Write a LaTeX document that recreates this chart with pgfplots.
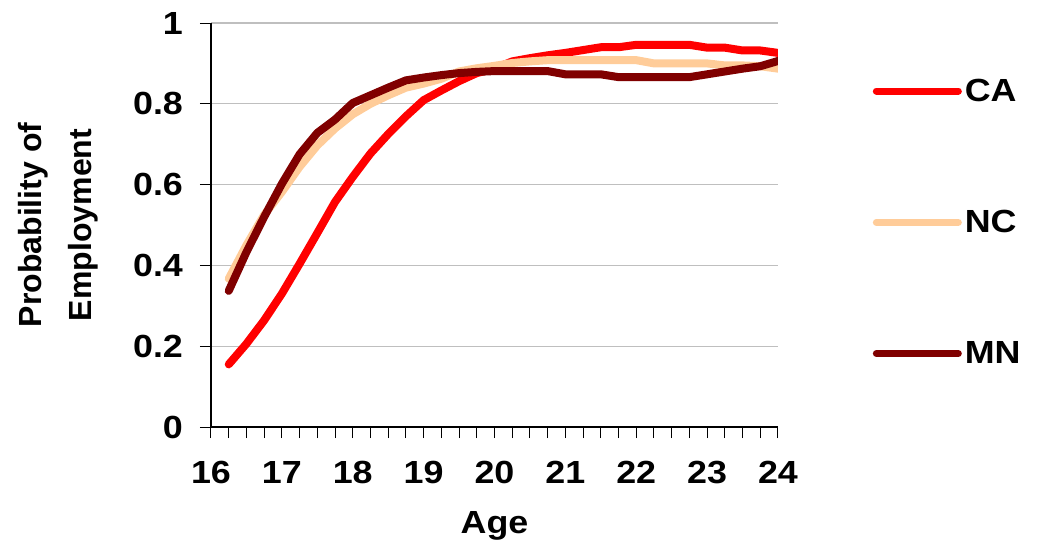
\documentclass[border=0pt]{standalone}
\usepackage{fontspec}
\setmainfont{Liberation Sans}
\newfontfamily\widefont{Liberation Sans}[FakeStretch=1.12]
\usepackage{pgfplots}
\pgfplotsset{compat=1.18}

\definecolor{caRed}{HTML}{FF0000}
\definecolor{ncPeach}{HTML}{FFCC99}
\definecolor{mnDark}{HTML}{800000}

\begin{document}
\begin{tikzpicture}
\useasboundingbox (-105.5pt,-57pt) rectangle (414pt,213.5pt);
\begin{axis}[
    at={(0,0)}, anchor=south west,
    scale only axis,
    width=283.5pt, height=202pt,
    xmin=16, xmax=24, ymin=0, ymax=1,
    axis lines*=left,
    axis line style={black, line width=0.6pt},
    xtick={16,...,24},
    minor x tick num=3,
    ytick={0,0.2,...,1},
    tick align=outside,
    major tick length=5.5pt, minor tick length=5.5pt,
    tick style={black, line width=0.5pt},
    ymajorgrids,
    grid style={gray!50, line width=0.6pt},
    /pgf/number format/assume math mode=true,
    yticklabel style={/pgf/number format/fixed, /pgf/number format/precision=1, xshift=-5pt},
    ticklabel style={font=\widefont\fontsize{16}{19}\selectfont\bfseries},
    xticklabel style={yshift=-8pt},
    xlabel={Age},
    xlabel style={font=\widefont\fontsize{16}{19}\selectfont\bfseries, yshift=-7pt},
    ylabel={Probability of\\Employment},
    ylabel style={font=\fontsize{16}{25}\selectfont\bfseries, align=center,
        at={(axis description cs:-0.27,0.5)}, anchor=center, rotate=0},
    every axis plot/.append style={line width=4pt, line cap=round, line join=round},
    legend image code/.code={\draw[#1, line width=3.5pt] (0pt,0.4pt) -- (41pt,0.4pt);},
    legend style={at={(axis description cs:1.156,0.505)}, anchor=west, draw=none, fill=none,
        font=\widefont\fontsize{16}{19}\selectfont\bfseries, row sep=50pt,
        nodes={inner sep=1.5pt}},
    legend cell align=left,
]
\addplot[caRed] coordinates {
(16.25,0.155) (16.5,0.206) (16.75,0.264) (17,0.330) (17.25,0.404) (17.5,0.480)
(17.75,0.557) (18,0.619) (18.25,0.677) (18.5,0.725) (18.75,0.769) (19,0.809)
(19.25,0.833) (19.5,0.856) (19.75,0.876) (20,0.887) (20.25,0.905) (20.5,0.913)
(20.75,0.920) (21,0.926) (21.25,0.933) (21.5,0.940) (21.75,0.940) (22,0.946)
(22.25,0.946) (22.5,0.946) (22.75,0.946) (23,0.939) (23.25,0.939) (23.5,0.932)
(23.75,0.932) (24,0.926)
};
\addplot[ncPeach] coordinates {
(16.25,0.367) (16.5,0.450) (16.75,0.525) (17,0.582) (17.25,0.644) (17.5,0.697)
(17.75,0.739) (18,0.774) (18.25,0.800) (18.5,0.821) (18.75,0.840) (19,0.850)
(19.25,0.862) (19.5,0.880) (19.75,0.888) (20,0.894) (20.25,0.901) (20.5,0.905)
(20.75,0.908) (21,0.908) (21.25,0.908) (21.5,0.908) (21.75,0.908) (22,0.908)
(22.25,0.900) (22.5,0.900) (22.75,0.900) (23,0.900) (23.25,0.895) (23.5,0.895)
(23.75,0.893) (24,0.887)
};
\addplot[mnDark] coordinates {
(16.25,0.337) (16.5,0.433) (16.75,0.520) (17,0.602) (17.25,0.675) (17.5,0.728)
(17.75,0.761) (18,0.802) (18.25,0.821) (18.5,0.840) (18.75,0.858) (19,0.865)
(19.25,0.871) (19.5,0.876) (19.75,0.879) (20,0.881) (20.25,0.881) (20.5,0.881)
(20.75,0.881) (21,0.873) (21.25,0.873) (21.5,0.873) (21.75,0.866) (22,0.866)
(22.25,0.866) (22.5,0.866) (22.75,0.866) (23,0.873) (23.25,0.880) (23.5,0.887)
(23.75,0.893) (24,0.906)
};
\legend{CA, NC, MN}
\end{axis}
\end{tikzpicture}
\end{document}
